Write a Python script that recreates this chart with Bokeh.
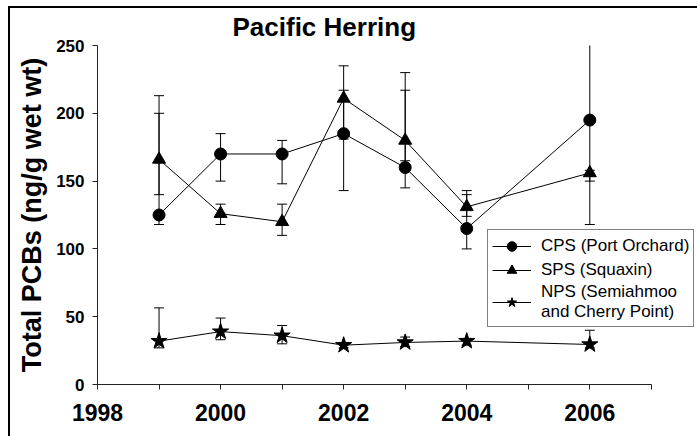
from bokeh.plotting import figure
from bokeh.models import (ColumnDataSource, Whisker, TeeHead, FixedTicker, Legend,
                          LegendItem, Range1d)
from bokeh.embed import file_html
from bokeh.resources import INLINE

# ---- data ----
years = [1999, 2000, 2001, 2002, 2003, 2004, 2006]

cps = [125, 170, 170, 185, 160, 115, 195]
cps_lo = [118, 150, 148, 143, 145, 100, 118]
cps_hi = [200, 185, 180, 217, 217, 140, 272]

sps = [166, 126, 120, 211, 180, 131, 156]
sps_lo = [140, 118, 110, 181, 165, 124, 150]
sps_hi = [213, 133, 133, 235, 230, 143, 158]

nps = [32, 39, 36, 29, 31, 32, 29.5]
nps_lo = [27, 33, 30, 27, 28, 29, 27]
nps_hi = [56.5, 49, 43.5, 31, 35, 34, 40]

labels = ["CPS (Port Orchard)", "SPS (Squaxin)", "NPS (Semiahmoo\nand Cherry Point)"]
title_text = "Pacific Herring"
y_label = "Total PCBs (ng/g wet wt)"
x_ticks = [1998, 2000, 2002, 2004, 2006]
x_minor = [1999, 2001, 2003, 2005, 2007]
y_ticks = [0, 50, 100, 150, 200, 250]

FONT = "Liberation Sans"

# frame: x 97..697 (axis drawn only 1998..2007), y 45..384
p = figure(width=697, height=436, output_backend="svg", toolbar_location=None,
           x_range=Range1d(1998, 2007.75), y_range=Range1d(0, 250),
           min_border_left=97, min_border_right=0, min_border_top=45, min_border_bottom=52)
p.outline_line_color = None
p.grid.visible = False
p.background_fill_color = "white"
p.border_fill_color = "white"
p.border_fill_alpha = 0
# thin black frame line along the top and left of the whole picture
p.styles = {
    "background": ("linear-gradient(#000, #000) 8px 6px / 100% 2px no-repeat, "
                   "linear-gradient(#000, #000) 8px 6px / 2px 100% no-repeat, #fff"),
}

p.title.text = title_text
p.title.text_font = FONT
p.title.text_font_style = "bold"
p.title.text_font_size = "26px"
p.title.text_color = "black"
p.title.align = "left"
p.title.offset = 135
p.title.standoff = 7

# axes
p.xaxis.bounds = (1998, 2007)
p.xaxis.ticker = FixedTicker(ticks=x_ticks, minor_ticks=x_minor)
p.yaxis.ticker = FixedTicker(ticks=y_ticks, minor_ticks=[])
for ax in (p.xaxis, p.yaxis):
    ax.axis_line_color = "#222222"
    ax.axis_line_width = 1
    ax.major_tick_line_color = "#222222"
    ax.minor_tick_line_color = "#222222"
    ax.major_tick_in = 0
    ax.major_tick_out = 5
    ax.minor_tick_in = 0
    ax.minor_tick_out = 5
    ax.major_label_text_font = FONT
    ax.major_label_text_font_style = "bold"
    ax.major_label_text_color = "black"
p.xaxis.major_label_text_font_size = "23px"
p.xaxis.major_label_standoff = 14
p.yaxis.major_label_text_font_size = "17px"
p.yaxis.major_label_standoff = 8
p.yaxis.axis_label = y_label
p.yaxis.axis_label_text_font = FONT
p.yaxis.axis_label_text_font_style = "bold"
p.yaxis.axis_label_text_font_size = "27px"
p.yaxis.axis_label_text_color = "black"
p.yaxis.axis_label_standoff = 6

src = ColumnDataSource(dict(x=years, cps=cps, cps_lo=cps_lo, cps_hi=cps_hi,
                            sps=sps, sps_lo=sps_lo, sps_hi=sps_hi,
                            nps=nps, nps_lo=nps_lo, nps_hi=nps_hi))

# error bars
for lo, hi in (("cps_lo", "cps_hi"), ("sps_lo", "sps_hi"), ("nps_lo", "nps_hi")):
    w = Whisker(source=src, base="x", lower=lo, upper=hi, line_color="black", line_width=1,
                upper_head=TeeHead(size=10, line_color="black", line_width=1),
                lower_head=TeeHead(size=10, line_color="black", line_width=1))
    p.add_layout(w)

l1 = p.line("x", "cps", source=src, line_color="black", line_width=1)
m1 = p.scatter("x", "cps", source=src, marker="circle", size=12, color="black")
l2 = p.line("x", "sps", source=src, line_color="black", line_width=1)
m2 = p.scatter("x", "sps", source=src, marker="triangle", size=13, color="black")
l3 = p.line("x", "nps", source=src, line_color="black", line_width=1)
m3 = p.scatter("x", "nps", source=src, marker="star", size=17, color="black")

legend = Legend(items=[LegendItem(label=labels[0], renderers=[l1, m1]),
                       LegendItem(label=labels[1], renderers=[l2, m2]),
                       LegendItem(label=labels[2], renderers=[l3, m3])],
                location=(390, 57))
legend.label_text_font = FONT
legend.label_text_font_size = "17px"
legend.label_text_color = "black"
legend.label_height = 20
legend.label_standoff = 10
legend.glyph_width = 39
legend.glyph_height = 24
legend.spacing = 0
legend.padding = 4
legend.margin = 0
legend.border_line_color = "black"
legend.border_line_width = 1
legend.background_fill_color = "white"
legend.background_fill_alpha = 1
p.add_layout(legend, "center")

open("out.html", "w").write(file_html(p, INLINE))
